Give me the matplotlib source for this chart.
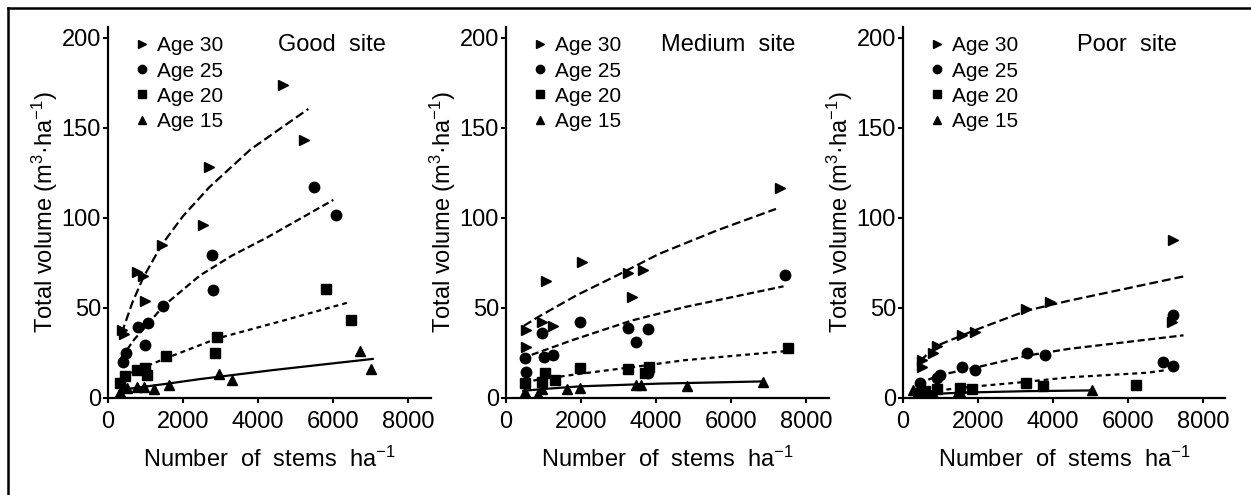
import numpy as np
import matplotlib.pyplot as plt
from matplotlib.lines import Line2D

plt.rcParams['font.family'] = ['Liberation Sans', 'DejaVu Sans']
plt.rcParams['mathtext.fontset'] = 'custom'
plt.rcParams['mathtext.rm'] = 'Liberation Sans'
plt.rcParams['mathtext.it'] = 'Liberation Sans'

ages = [30, 25, 20, 15]
sites = ['Good  site', 'Medium  site', 'Poor  site']

# measured stands: stems per ha and total volume, per age class
good_x = {30: [370, 420, 765, 943, 987, 1430, 2525, 2702, 4658, 5227],
          25: [409, 472, 790, 987, 1058, 1475, 2773, 2792, 5502, 6080],
          20: [320, 453, 765, 987, 1031, 1538, 2845, 2898, 5805, 6472],
          15: [320, 498, 765, 968, 1235, 1627, 2968, 3307, 6720, 7005]}
good_y = {30: [38, 35.5, 70, 68, 54, 85, 96, 128, 174, 143],
          25: [20, 25, 39.5, 29.5, 41.6, 51, 79.5, 60, 117, 101.6],
          20: [8.5, 12, 15.6, 16.5, 12.8, 23.4, 25, 34, 60.7, 43.5],
          15: [3.5, 5.4, 6.3, 6.3, 4.8, 7.2, 13.4, 10, 26, 16]}

medium_x = {30: [525, 525, 952, 1058, 1262, 2018, 3245, 3352, 3662, 7307],
            25: [507, 525, 969, 1022, 1262, 1973, 3245, 3458, 3778, 3778, 7440],
            20: [507, 952, 1040, 1307, 1973, 3262, 3700, 3813, 7529],
            15: [507, 862, 952, 1618, 1973, 3470, 3600, 4835, 6845]}
medium_y = {30: [38, 28.5, 42.4, 65, 40, 75.7, 69.6, 56, 71, 116.5],
            25: [22, 14.6, 36.3, 23, 23.9, 42.4, 38.7, 31.3, 38.2, 14, 68.3],
            20: [8.1, 9, 13.7, 10, 16.5, 15.9, 14, 17.4, 27.6],
            15: [3.5, 2.2, 4.8, 4.8, 5.4, 7.2, 7.2, 6.7, 9]}

poor_x = {30: [499, 499, 808, 899, 1565, 1920, 3280, 3920, 7165, 7208],
          25: [453, 915, 987, 1565, 1920, 3315, 3787, 6941, 7208, 7208],
          20: [400, 600, 899, 1520, 1832, 3280, 3725, 6213],
          15: [275, 420, 808, 1475, 1565, 5032]}
poor_y = {30: [17.1, 21.2, 24.9, 28.9, 35, 36.8, 49.2, 53.4, 42.4, 88],
          25: [8.3, 11, 12.9, 17.1, 15.7, 25.2, 24, 20.2, 17.5, 46],
          20: [3, 4, 5, 5.5, 5.1, 8.6, 6.4, 7.4],
          15: [4.6, 2.5, 2.8, 3.1, 1.3, 4.2]}

# fitted volume curves
good_fit_x = {30: [364, 650, 942, 1431, 2000, 2700, 3800, 5342],
              25: [340, 700, 1060, 1475, 2450, 3300, 4230, 6010],
              20: [400, 1000, 1540, 2900, 4675, 6450],
              15: [330, 1600, 2450, 4400, 7060]}
good_fit_y = {30: [36, 53, 67, 85, 101, 117, 138, 160.5],
              25: [22, 32.5, 41, 51, 68, 79, 89, 110],
              20: [12, 17.5, 22, 33, 43, 53.3],
              15: [4.5, 8, 10.5, 15.5, 21.7]}

medium_fit_x = {30: [470, 900, 1880, 3000, 4080, 5620, 7200],
                25: [420, 1750, 3350, 4770, 7400],
                20: [500, 800, 2000, 3500, 4770, 7450],
                15: [460, 1000, 2000, 4100, 6820]}
medium_fit_y = {30: [40, 45.5, 57, 68.5, 80, 93, 105],
                25: [22, 32, 43, 50.5, 62],
                20: [8.5, 10, 13.5, 17.5, 21, 26],
                15: [4, 5, 6.5, 8, 9.2]}

poor_fit_x = {30: [450, 900, 1900, 3300, 4420, 7480],
              25: [410, 990, 1920, 3300, 4430, 7480],
              20: [450, 1700, 3300, 4430, 6500, 7030],
              15: [300, 1600, 3300, 5030]}
poor_fit_y = {30: [20.5, 29, 37.5, 48.5, 54, 67.5],
              25: [8, 12.8, 16.8, 23.5, 27.3, 34.8],
              20: [3, 6, 9, 11.5, 14, 15.5],
              15: [1.8, 3, 3.8, 4.2]}

markers = {30: '>', 25: 'o', 20: 's', 15: '^'}
msize = {30: 6.5, 25: 7.5, 20: 6.5, 15: 7}
dashes = {30: (4, 1.8), 25: (3.2, 1.6), 20: (2.2, 1.8), 15: None}

panels = [(good_x, good_y, good_fit_x, good_fit_y),
          (medium_x, medium_y, medium_fit_x, medium_fit_y),
          (poor_x, poor_y, poor_fit_x, poor_fit_y)]
lefts = [108, 506, 903]
title_x = [0.528, 0.48, 0.539]

W, H = 1251, 495
fig = plt.figure(figsize=(W / 100, H / 100), dpi=100)

for i, (px, py, fx, fy) in enumerate(panels):
    ax = fig.add_axes([lefts[i] / W, 97 / H, 322.5 / W, 371 / H])
    for a in ages:
        ax.plot(px[a], py[a], ls='none', marker=markers[a], ms=msize[a],
                color='black', label='Age ' + str(a))
        if dashes[a] is None:
            ax.plot(fx[a], fy[a], color='black', lw=1.6)
        else:
            ax.plot(fx[a], fy[a], color='black', lw=1.6, dashes=dashes[a])

    ax.set_xlim(0, 8600)
    ax.set_ylim(0, 206)
    ax.set_xticks([0, 2000, 4000, 6000, 8000])
    ax.set_yticks([0, 50, 100, 150, 200])
    for s in ['top', 'right']:
        ax.spines[s].set_visible(False)
    for s in ['left', 'bottom']:
        ax.spines[s].set_linewidth(1.6)
    ax.tick_params(axis='both', labelsize=17, width=1.5, length=3.5, direction='out')
    ax.tick_params(axis='x', pad=6)
    ax.tick_params(axis='y', pad=1.5)

    ax.set_xlabel('Number  of  stems  ha$^{-1}$', fontsize=17, labelpad=10)
    ax.set_ylabel('Total volume (m$^{3}$·ha$^{-1}$)', fontsize=17, labelpad=1)

    ax.text(title_x[i], 0.935, sites[i], transform=ax.transAxes,
            fontsize=17, va='baseline', ha='left')

    ax.legend(loc='upper left', bbox_to_anchor=(0.079, 0.975), frameon=False,
              fontsize=15, borderpad=0, handlelength=0.8, handletextpad=0.33,
              labelspacing=0.3, markerscale=0.8, borderaxespad=0)

# frame lines along the top and left edge
fig.add_artist(Line2D([8 / W, 1], [1 - 8 / H, 1 - 8 / H], color='black', lw=1.8,
                      transform=fig.transFigure))
fig.add_artist(Line2D([8 / W, 8 / W], [0, 1 - 8 / H], color='black', lw=1.8,
                      transform=fig.transFigure))

fig.savefig('out.png', dpi=100)
